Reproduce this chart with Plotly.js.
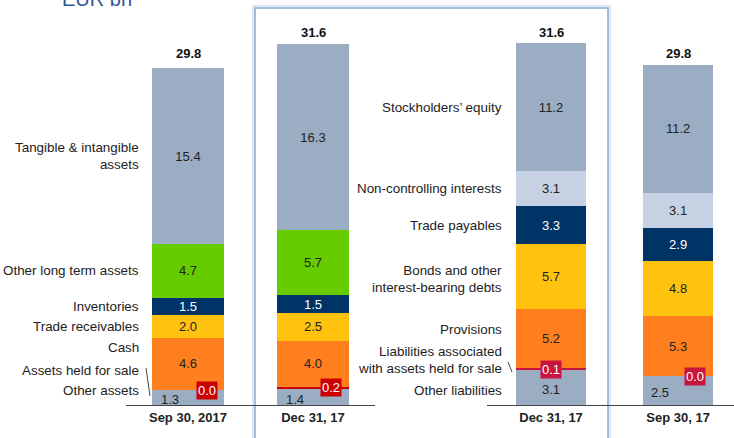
<!DOCTYPE html>
<html>
<head>
<meta charset="utf-8">
<script src="https://cdn.plot.ly/plotly-3.0.1.min.js"></script>
<style>
  body { margin: 0; background: #fff; }
  #chart { width: 734px; height: 438px; }
</style>
</head>
<body>
<div id="chart"></div>
<script>
    var assetCats = ['Sep 30, 2017', 'Dec 31, 17'];
    var liabCats = ['Dec 31, 17', 'Sep 30, 17'];

    // bottom to top
    var assetNames = ['Other assets', 'Assets held for sale', 'Cash', 'Trade receivables', 'Inventories',
      'Other long term assets', 'Tangible & intangible<br>assets'];
    var liabNames = ['Other liabilities', 'Liabilities associated<br>with assets held for sale', 'Provisions',
      'Bonds and other<br>interest-bearing debts', 'Trade payables', 'Non-controlling interests', 'Stockholders\u2019 equity'];

    var assetSep17 = [1.3, 0.0, 4.6, 2.0, 1.5, 4.7, 15.4];
    var assetDec17 = [1.4, 0.2, 4.0, 2.5, 1.5, 5.7, 16.3];
    var liabDec17 = [3.1, 0.1, 5.2, 5.7, 3.3, 3.1, 11.2];
    var liabSep17 = [2.5, 0.0, 5.3, 4.8, 2.9, 3.1, 11.2];

    var assetTotals = [29.8, 31.6];
    var liabTotals = [31.6, 29.8];

    var assetColors = ['#9aadc3', '#cc0000', '#ff7f1f', '#ffc20f', '#003366', '#66cc00', '#9aadc3'];
    var liabColors = ['#9aadc3', '#c8143e', '#ff7f1f', '#ffc20f', '#003366', '#c6d2e3', '#9aadc3'];

    var FONT = 'Liberation Sans, Arial, sans-serif';

    var data = [];
    var annotations = [];

    function fmt(v) { return v.toFixed(1); }

    function addSide(cats, colA, colB, names, colors, xa, width) {
      for (var i = 0; i < names.length; i++) {
        var vals = [colA[i], colB[i]];
        data.push({
          type: 'bar',
          x: cats,
          y: vals,
          xaxis: xa,
          yaxis: 'y',
          width: width,
          name: names[i],
          marker: { color: colors[i] },
          text: i >= 2 ? vals.map(fmt) : null,
          textposition: i >= 2 ? 'inside' : 'none',
          insidetextanchor: 'middle',
          textangle: 0,
          textfont: { family: FONT, size: 13, color: i == 4 ? '#ffffff' : '#222222' },
          hoverinfo: 'name+y',
          showlegend: false
        });
      }
    }

    addSide(assetCats, assetSep17, assetDec17, assetNames, assetColors, 'x', 0.57);
    addSide(liabCats, liabDec17, liabSep17, liabNames, liabColors, 'x2', 0.55);

    // side labels, placed next to the first bar of each side
    var assetShift = [7, 20, 16, 0, 0, 0, 0];
    var liabShift = [-3, 9, 9, -2, 0, 0, 0];
    function addLabels(cat, vals, names, shifts, xref) {
      var base = 0;
      for (var i = 0; i < vals.length; i++) {
        annotations.push({
          xref: xref, yref: 'y', x: cat, y: base + vals[i] / 2,
          xanchor: 'right', yanchor: 'middle', align: 'right',
          xshift: -47, yshift: shifts[i],
          text: names[i], showarrow: false,
          font: { family: FONT, size: 13.4, color: '#222222' }
        });
        base += vals[i];
      }
    }
    addLabels(assetCats[0], assetSep17, assetNames, assetShift, 'x');
    addLabels(liabCats[0], liabDec17, liabNames, liabShift, 'x2');

    // bottom segment values and the small red value boxes
    function addSmall(cat, vals, xref, gx, rx, boxColor) {
      annotations.push({
        xref: xref, yref: 'y', x: cat, y: vals[0] / 2, xshift: gx, yshift: -2,
        text: fmt(vals[0]), showarrow: false,
        font: { family: FONT, size: 13, color: '#222222' }
      });
      annotations.push({
        xref: xref, yref: 'y', x: cat, y: vals[0] + vals[1] / 2, xshift: rx,
        text: fmt(vals[1]), showarrow: false, bgcolor: boxColor, borderpad: 1,
        font: { family: FONT, size: 13, color: '#ffffff' }
      });
    }
    addSmall(assetCats[0], assetSep17, 'x', -18, 19, '#cc0000');
    addSmall(assetCats[1], assetDec17, 'x', -18, 18, '#cc0000');
    addSmall(liabCats[0], liabDec17, 'x2', 0, 0, '#c8143e');
    addSmall(liabCats[1], liabSep17, 'x2', -18, 17, '#c8143e');

    // totals
    function addTotals(cats, totals, xref) {
      for (var i = 0; i < cats.length; i++) {
        annotations.push({
          xref: xref, yref: 'y', x: cats[i], y: totals[i], yanchor: 'bottom', yshift: 2,
          text: '<b>' + fmt(totals[i]) + '</b>', showarrow: false,
          font: { family: FONT, size: 13, color: '#111111' }
        });
      }
    }
    addTotals(assetCats, assetTotals, 'x');
    addTotals(liabCats, liabTotals, 'x2');

    annotations.push({
      xref: 'paper', yref: 'paper', x: 0.082, y: 1.03, xanchor: 'left', yanchor: 'middle',
      text: 'EUR bn', showarrow: false,
      font: { family: FONT, size: 20, color: '#2f5597' }
    });

    var axisCommon = {
      type: 'category',
      showline: true, linecolor: '#444444', linewidth: 1,
      ticks: '', showgrid: false, zeroline: false, fixedrange: true,
      tickfont: { family: FONT, size: 13, color: '#222222', weight: 'bold' }
    };

    var layout = {
      width: 734, height: 438,
      margin: { l: 0, r: 0, t: 11, b: 33 },
      paper_bgcolor: '#ffffff',
      plot_bgcolor: 'rgba(0,0,0,0)',
      barmode: 'stack',
      showlegend: false,
      uniformtext: { mode: 'show', minsize: 13 },
      xaxis: Object.assign({}, axisCommon, { domain: [126 / 734, 375 / 734], range: [-0.496, 1.496], anchor: 'y' }),
      xaxis2: Object.assign({}, axisCommon, { domain: [487 / 734, 1], range: [-0.504, 1.44], anchor: 'y' }),
      yaxis: { range: [0, 34.53], visible: false, fixedrange: true },
      annotations: annotations,
      shapes: [
        { type: 'rect', xref: 'paper', yref: 'paper', x0: 254 / 734, x1: 609 / 734, y0: -0.1, y1: 1.0101,
          line: { color: '#dde8f4', width: 4 }, layer: 'below' },
        { type: 'rect', xref: 'paper', yref: 'paper', x0: 255 / 734, x1: 608 / 734, y0: -0.1, y1: 1.0076,
          line: { color: '#8db0d8', width: 1.5 }, layer: 'below' },
        { type: 'line', xref: 'paper', yref: 'paper', x0: 146 / 734, x1: 150 / 734,
          y0: (405 - 368) / 394, y1: (405 - 396) / 394, line: { color: '#444444', width: 1 } },
        { type: 'line', xref: 'paper', yref: 'paper', x0: 508 / 734, x1: 512 / 734,
          y0: (405 - 362) / 394, y1: (405 - 372) / 394, line: { color: '#444444', width: 1 } }
      ]
    };

    Plotly.newPlot('chart', data, layout, { displayModeBar: false });
</script>
</body>
</html>
